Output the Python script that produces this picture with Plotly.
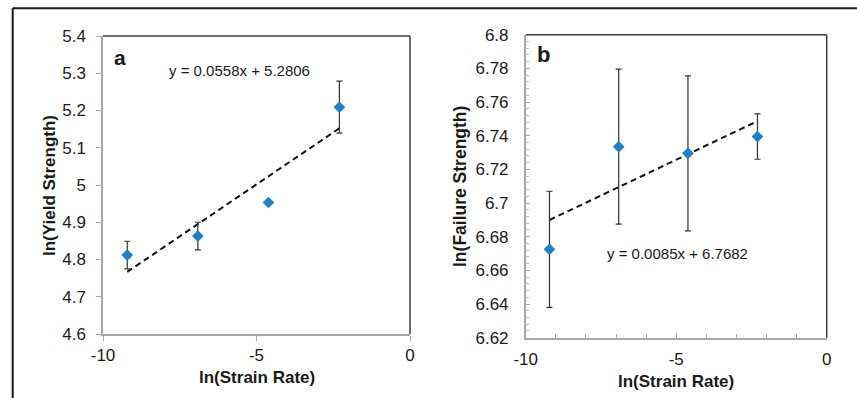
import plotly.graph_objects as go

W, H = 857, 398

# ---- data ----
ln_strain_rate = [-9.21, -6.91, -4.61, -2.30]
ln_yield = [4.812, 4.863, 4.953, 5.209]
ln_yield_err = [0.037, 0.037, 0.004, 0.070]
ln_failure = [6.6725, 6.7335, 6.7295, 6.7395]
ln_failure_err = [0.0345, 0.046, 0.046, 0.0135]
fit_a = (0.0558, 5.2806)
fit_b = (0.0085, 6.7682)
eq_a = "y = 0.0558x + 5.2806"
eq_b = "y = 0.0085x + 6.7682"
x_tickvals = [-10, -5, 0]
x_ticktext = ["-10", "-5", "0"]

FONT = "Liberation Sans, Arial, sans-serif"
BLUE = "#1f80c8"
TXT = "#1a1a1a"

def px_x(p):
    return p / W

def px_y(p):
    return 1 - p / H

fig = go.Figure()

# trendlines
xs_fit = [min(ln_strain_rate), max(ln_strain_rate)]
for (m, c), xa, ya in [(fit_a, "x", "y"), (fit_b, "x2", "y2")]:
    fig.add_trace(go.Scatter(
        x=xs_fit, y=[m * v + c for v in xs_fit], mode="lines",
        line=dict(color="#111111", width=2, dash="6px,4px"),
        xaxis=xa, yaxis=ya, showlegend=False, hoverinfo="skip"))

for ys, es, xa, ya in [(ln_yield, ln_yield_err, "x", "y"), (ln_failure, ln_failure_err, "x2", "y2")]:
    fig.add_trace(go.Scatter(
        x=ln_strain_rate, y=ys, mode="markers",
        marker=dict(symbol="diamond", size=9, color=BLUE, line=dict(width=0)),
        error_y=dict(type="data", array=es, visible=True, color="#333333", thickness=1.2, width=3),
        xaxis=xa, yaxis=ya, showlegend=False))

axis_common = dict(showgrid=False, zeroline=False, showline=True, linecolor="#a8a8a8", linewidth=1.5,
                   automargin=False,
                   tickfont=dict(family=FONT, size=17, color=TXT), tickcolor="#a8a8a8")

fig.update_layout(
    template="none",
    width=W, height=H, margin=dict(l=0, r=0, t=0, b=0, pad=0), autosize=False,
    paper_bgcolor="white", plot_bgcolor="white",
    xaxis=dict(domain=[px_x(103), px_x(410)], range=[-10, 0], tickvals=x_tickvals, ticktext=x_ticktext,
               ticks="outside", ticklen=5, anchor="y", ticklabelstandoff=0, **axis_common),
    yaxis=dict(domain=[px_y(334), px_y(36)], range=[4.6, 5.4], dtick=0.1, ticks="outside", ticklen=5,
               anchor="x", ticklabelstandoff=7, **axis_common),
    xaxis2=dict(domain=[px_x(525.7), px_x(826.7)], range=[-10, 0], tickvals=x_tickvals, ticktext=x_ticktext,
                ticks="inside", ticklen=5,
                minor=dict(dtick=1, ticks="inside", ticklen=4, tickcolor="#a8a8a8"),
                anchor="y2", ticklabelstandoff=5, **axis_common),
    yaxis2=dict(domain=[px_y(337.7), px_y(34.7)], range=[6.62, 6.8], dtick=0.02, ticks="inside", ticklen=5,
                minor=dict(dtick=0.004, ticks="inside", ticklen=4, tickcolor="#b8b8b8"),
                anchor="x2", ticklabelstandoff=12, **axis_common),
)

shapes = []
# top and right plot borders (darker)
for xd, yd in [("x domain", "y domain"), ("x2 domain", "y2 domain")]:
    shapes.append(dict(type="line", xref=xd, yref=yd, x0=0, x1=1, y0=1, y1=1,
                       line=dict(color="#3a3a3a", width=1.5)))
    shapes.append(dict(type="line", xref=xd, yref=yd, x0=1, x1=1, y0=0, y1=1,
                       line=dict(color="#3a3a3a", width=1.5)))
# outer frame (top + left)
shapes.append(dict(type="line", xref="paper", yref="paper", x0=px_x(12.7), x1=1, y0=px_y(8.3), y1=px_y(8.3),
                   line=dict(color="#1a1a1a", width=2)))
shapes.append(dict(type="line", xref="paper", yref="paper", x0=px_x(12.7), x1=px_x(12.7), y0=0, y1=px_y(8.3),
                   line=dict(color="#1a1a1a", width=2)))
fig.update_layout(shapes=shapes)

ann = []
def add_text(text, x, y, size, bold=False, angle=0, family=FONT, xanchor="center"):
    ann.append(dict(text=f"<b>{text}</b>" if bold else text, x=px_x(x), y=px_y(y), xref="paper", yref="paper",
                    showarrow=False, xanchor=xanchor, yanchor="middle", textangle=angle,
                    font=dict(family=family, size=size, color=TXT)))

add_text("a", 112, 57, 21, bold=True, xanchor="left")
add_text("b", 535, 55, 22, bold=True, family="Liberation Sans Narrow, Arial Narrow, Liberation Sans, sans-serif", xanchor="left")
add_text(eq_a, 239.5, 70, 15)
add_text(eq_b, 677, 253, 15)
add_text("ln(Strain Rate)", 257, 377, 17, bold=True)
add_text("ln(Strain Rate)", 676, 381, 17, bold=True)
add_text("ln(Yield Strength)", 49, 186, 17, bold=True, angle=-90)
add_text("ln(Failure Strength)", 460, 187, 17.5, bold=True, angle=-90)
fig.update_layout(annotations=ann)

fig.write_html("out.html", post_script="document.body.style.margin='0';document.body.style.padding='0';")
